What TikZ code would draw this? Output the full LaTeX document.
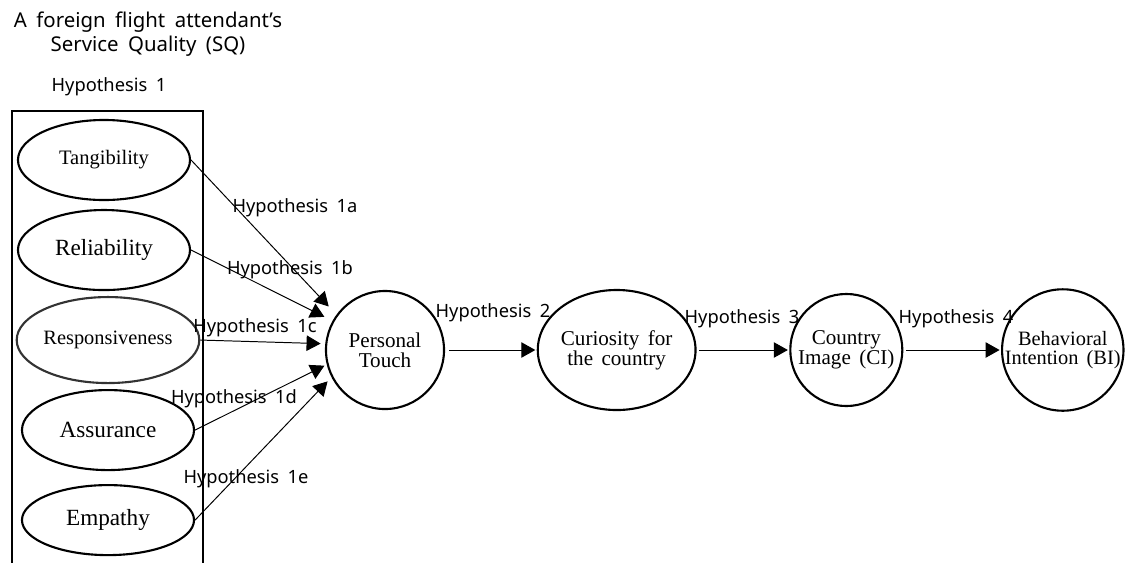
\documentclass[tikz,border=0pt]{standalone}
\usepackage{fontspec}
\setmainfont{Liberation Serif}[WordSpace=1.6]
\setsansfont{Noto Sans}[WordSpace=1.8]
\usetikzlibrary{shapes,arrows.meta,positioning}
\tikzstyle{sqbox} = [ellipse, draw, line width=1.5pt, text centered, inner sep=0pt, minimum width=4.3cm, minimum height=2cm, font=\fontsize{16.5}{14}\selectfont]
\tikzstyle{stage} = [circle, draw, line width=1.5pt, align=center, inner sep=0pt, font=\fontsize{15}{14}\selectfont]
\tikzstyle{hyp} = [inner sep=0pt, font=\fontsize{13}{16}\sffamily]
\tikzstyle{line} = [draw, line width=0.7pt, -{Triangle[length=10pt,width=11pt]}]

\begin{document}
\begin{tikzpicture}[x=0.025cm, y=-0.025cm, node distance=2.25cm]
\useasboundingbox (0,0) rectangle (1126,562);
\node [hyp, align=center, font=\fontsize{14.5}{17}\sffamily] (title) at (148,34) {A foreign flight attendant’s\\Service Quality (SQ)};
\node [hyp] (h1) at (109,87) {Hypothesis 1};
\draw [line width=1.5pt] (12,575) |- (203,111) -- (203,575);
% service quality dimensions
\node [sqbox, font=\fontsize{14.6}{14}\selectfont] (tang) at (104,160) {Tangibility};
\node [sqbox, below of=tang] (rel) {Reliability};
\node [sqbox, below of=rel, xshift=0.1cm, minimum width=4.3cm, minimum height=2.15cm, draw=black!80, font=\fontsize{14.5}{14}\selectfont] (resp) {Responsiveness};
\node [sqbox, below of=resp] (assur) {Assurance};
\node [sqbox, below of=assur, minimum height=1.75cm] (emp) {Empathy};
% main chain
\node [stage, minimum size=2.95cm] (touch) at (385,350) {Personal\\Touch};
\node [stage, ellipse, minimum width=3.575cm, minimum height=3cm, right of=touch, node distance=5.79cm] (curio) {Curiosity for\\the country};
\node [stage, minimum size=2.8cm, right of=curio, node distance=5.74cm] (ci) {Country\\Image (CI)};
\node [stage, minimum size=2.875cm, right of=ci, node distance=5.41cm, font=\fontsize{14.5}{14}\selectfont] (bi) {Behavioral\\Intention (BI)};
\path [line, shorten >=8pt] (tang.east) -- (touch.144);
\path [line, shorten >=6.4pt] (rel.east) -- (touch.151.6);
\path [line, shorten >=3.3pt] (resp.east) -- (touch.174);
\path [line, shorten >=1.8pt] (assur.east) -- (touch.194.6);
\path [line, shorten >=4pt] (emp.east) -- (touch.207.4);
\path [line, shorten <=3pt, shorten >=1pt] (touch) -- (curio);
\path [line, shorten <=2pt, shorten >=1pt] (curio) -- (ci);
\path [line, shorten <=2pt, shorten >=1pt] (ci) -- (bi);
% labels
\node [hyp] (h1a) at (295,208) {Hypothesis 1a};
\node [hyp] (h1b) at (290,270) {Hypothesis 1b};
\node [hyp] (h1c) at (255,328) {Hypothesis 1c};
\node [hyp] (h1d) at (234,399) {Hypothesis 1d};
\node [hyp] (h1e) at (246,479) {Hypothesis 1e};
\node [hyp] (h2) at (493,313) {Hypothesis 2};
\node [hyp] (h3) at (742,319) {Hypothesis 3};
\node [hyp] (h4) at (956,319) {Hypothesis 4};
\end{tikzpicture}
\end{document}
